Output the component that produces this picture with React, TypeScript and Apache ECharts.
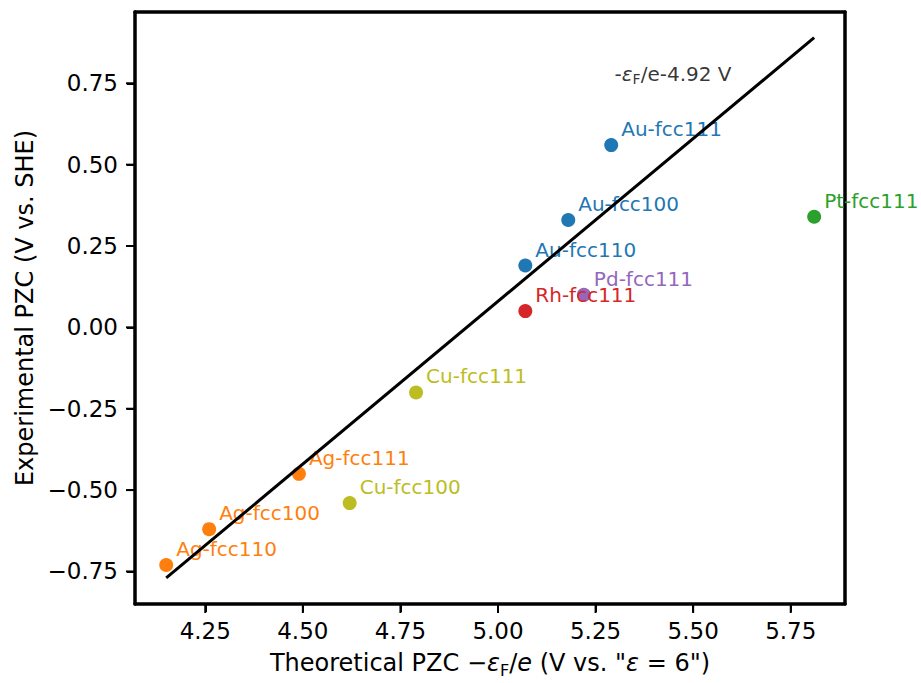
import React, { useEffect, useRef } from "react";
import * as echarts from "echarts";

const names = [
  "Au-fcc111", "Au-fcc100", "Au-fcc110", "Pd-fcc111", "Rh-fcc111", "Pt-fcc111",
  "Cu-fcc111", "Cu-fcc100", "Ag-fcc111", "Ag-fcc100", "Ag-fcc110",
];
const theoreticalPZC = [5.29, 5.18, 5.07, 5.22, 5.07, 5.81, 4.79, 4.62, 4.49, 4.26, 4.15];
const experimentalPZC = [0.56, 0.33, 0.19, 0.10, 0.05, 0.34, -0.20, -0.54, -0.45, -0.62, -0.73];

const fitX = [4.15, 5.81];
const fitY = [-0.77, 0.89];

const xTicks = [4.25, 4.5, 4.75, 5.0, 5.25, 5.5, 5.75];
const yTicks = [-0.75, -0.5, -0.25, 0.0, 0.25, 0.5, 0.75];

const annotationPos = [5.3, 0.75];

const metalColors: Record<string, string> = {
  Au: "#1f77b4",
  Ag: "#ff7f0e",
  Pt: "#2ca02c",
  Rh: "#d62728",
  Pd: "#9467bd",
  Cu: "#bcbd22",
};

const FONT = "DejaVu Sans";
const fmt = (v: number) => v.toFixed(2).replace("-", "\u2212");
const X_MIN = 4.07, X_MAX = 5.889, Y_MIN = -0.85, Y_MAX = 0.969;

export default function App() {
  const ref = useRef<HTMLDivElement>(null);
  useEffect(() => {
    if (!ref.current) return;
    const chart = echarts.init(ref.current, null, { renderer: "svg" });
    const pointData = names.map((n, i) => {
      const c = metalColors[n.slice(0, 2)];
      return {
        name: n,
        value: [theoreticalPZC[i], experimentalPZC[i]],
        itemStyle: { color: c, opacity: 1 },
        label: { color: c },
      };
    });
    const richBase = {
      it: { fontStyle: "italic", fontFamily: FONT, fontSize: 24, color: "#000" },
      sub: { fontFamily: FONT, fontSize: 16, color: "#000", verticalAlign: "bottom", lineHeight: 16 },
    };
    const frameLine = () => ({ show: true, onZero: false, lineStyle: { color: "#000", width: 3.5 } });
    chart.setOption({
      animation: false,
      backgroundColor: "#fff",
      grid: { left: 135, right: 76, top: 12, bottom: 76, show: false },
      xAxis: [
        {
          type: "value",
          position: "bottom",
          min: X_MIN,
          max: X_MAX,
          axisLine: frameLine(),
          splitLine: { show: false },
          axisTick: { show: true, inside: false, length: 8, lineStyle: { color: "#000", width: 2 }, customValues: xTicks },
          axisLabel: {
            customValues: xTicks,
            formatter: (v: number) => fmt(v),
            fontSize: 23, fontFamily: FONT, color: "#000", margin: 15,
          },
          name: 'Theoretical PZC \u2212{it|\u03b5}{sub|F}/{it|e} (V vs. "{it|\u03b5} = 6")',
          nameLocation: "middle",
          nameGap: 44,
          nameTextStyle: {
            fontSize: 24, fontFamily: FONT, color: "#000", verticalAlign: "top", lineHeight: 30,
            rich: richBase,
          },
        },
        {
          type: "value",
          position: "top",
          min: X_MIN,
          max: X_MAX,
          axisLine: frameLine(),
          splitLine: { show: false },
          axisTick: { show: false },
          axisLabel: { show: false },
        },
      ],
      yAxis: [
        {
          type: "value",
          position: "left",
          min: Y_MIN,
          max: Y_MAX,
          axisLine: frameLine(),
          splitLine: { show: false },
          axisTick: { show: true, inside: false, length: 8, lineStyle: { color: "#000", width: 2 }, customValues: yTicks },
          axisLabel: {
            customValues: yTicks,
            formatter: (v: number) => fmt(v),
            fontSize: 23, fontFamily: FONT, color: "#000", margin: 17,
          },
          name: "Experimental PZC (V vs. SHE)",
          nameLocation: "middle",
          nameGap: 90,
          nameTextStyle: { fontSize: 24, fontFamily: FONT, color: "#000" },
        },
        {
          type: "value",
          position: "right",
          min: Y_MIN,
          max: Y_MAX,
          axisLine: frameLine(),
          splitLine: { show: false },
          axisTick: { show: false },
          axisLabel: { show: false },
        },
      ],
      series: [
        {
          type: "scatter",
          symbolSize: 14,
          z: 2,
          itemStyle: { opacity: 1 },
          data: pointData,
          label: {
            show: true,
            formatter: "{b}",
            position: [17, -9],
            align: "left",
            verticalAlign: "middle",
            fontSize: 20,
            fontFamily: FONT,
          },
        },
        {
          type: "line",
          z: 5,
          showSymbol: false,
          symbol: "none",
          data: fitX.map((x, i) => [x, fitY[i]]),
          lineStyle: { color: "#000", width: 3 },
        },
        {
          type: "scatter",
          z: 5,
          symbolSize: 1,
          itemStyle: { color: "rgba(0,0,0,0)" },
          data: [annotationPos],
          label: {
            show: true,
            position: [0, 3],
            align: "left",
            verticalAlign: "bottom",
            formatter: "-{it|\u03b5}{sub|F}/e-4.92 V",
            fontSize: 20,
            fontFamily: FONT,
            color: "#000",
            lineHeight: 24,
            rich: {
              it: { fontStyle: "italic", fontFamily: FONT, fontSize: 20, color: "#000" },
              sub: { fontFamily: FONT, fontSize: 14, color: "#000", verticalAlign: "bottom", lineHeight: 14 },
            },
          },
        },
        {
          type: "scatter",
          name: "xTickMarks",
          z: 10,
          silent: true,
          clip: false,
          symbol: "rect",
          symbolSize: [2, 9],
          symbolOffset: [0, "50%"],
          itemStyle: { color: "#000", opacity: 1 },
          data: xTicks.map((v) => [v, Y_MIN]),
        },
        {
          type: "scatter",
          name: "yTickMarks",
          z: 10,
          silent: true,
          clip: false,
          symbol: "rect",
          symbolSize: [9, 2],
          symbolOffset: ["-50%", 0],
          itemStyle: { color: "#000", opacity: 1 },
          data: yTicks.map((v) => [X_MIN, v]),
        },
      ],
    });
    return () => chart.dispose();
  }, []);
  return (
    <div
      ref={ref}
      style={{ width: 921, height: 683, position: "fixed", left: 0, top: 0, background: "#fff" }}
    />
  );
}
